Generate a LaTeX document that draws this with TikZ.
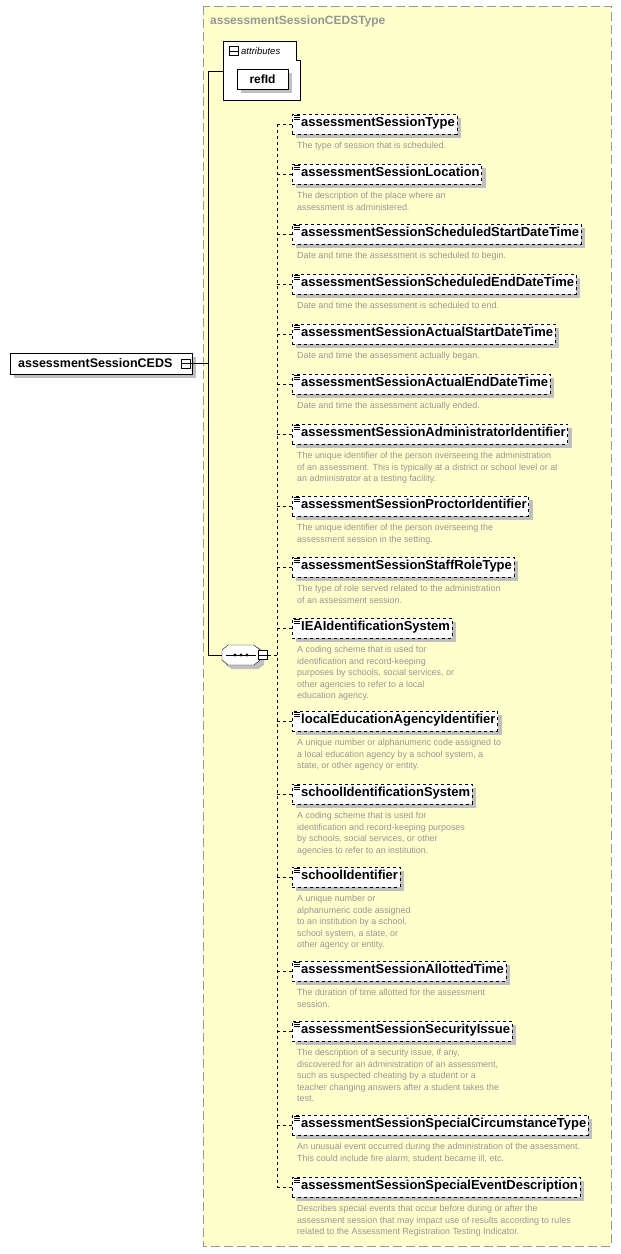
\documentclass[tikz,border=0pt]{standalone}
\usepackage{fontspec}
\setmainfont{Liberation Sans}
\usetikzlibrary{shadows}
\definecolor{bgy}{RGB}{255,255,204}
\definecolor{dgray}{RGB}{150,150,150}
\tikzset{
  x=1pt,y=-1pt,
  sh/.style={drop shadow={shadow xshift=4pt,shadow yshift=-4pt,fill=black!25,opacity=1}},
  el/.style={draw,dashed,fill=white,sh,font=\bfseries\fontsize{13}{14}\selectfont,inner xsep=2pt,minimum height=20pt,anchor=west,inner ysep=0pt},
  desc/.style={anchor=north west,align=left,text=dgray,font=\fontsize{8.9}{11.5}\selectfont,inner sep=0pt},
  pm/.style={draw,fill=white,minimum size=9pt,inner sep=0pt},
}
\newcommand{\elem}[4]{%
  \node[el] (#1) at (292,#2+10) {\strut\hspace{7pt}#3};
  \draw[line width=0.7pt] ([xshift=2pt,yshift=-2pt]#1.north west) -- ++(6,0)
    ([xshift=2pt,yshift=-4pt]#1.north west) -- ++(6,0)
    ([xshift=2pt,yshift=-6pt]#1.north west) -- ++(6,0);
  \node[desc] (#1d) at (297,#2+28) {#4};
  \draw[dashed] (277,#2+10) coordinate (#1c) -- (#1.west);
}
\begin{document}
\begin{tikzpicture}
\useasboundingbox (0,0) rectangle (621,1254);
\fill[white] (0,0) rectangle (621,1254);
\draw[dgray,fill=bgy,dash pattern=on 9pt off 4pt,line width=0.8pt] (203,6) rectangle (611,1246);
\node[anchor=west,text=dgray,font=\bfseries\fontsize{12}{13}\selectfont,inner sep=0pt] (title) at (210,21) {assessmentSessionCEDSType};
% attributes
\draw[fill=white] (223,41) -- (296,41) -- (296,60) -- (300,60) -- (300,100) -- (223,100) -- cycle;
\node[pm] (am) at (234,51) {};
\draw (230,51) -- (238,51);
\node[anchor=west,font=\itshape\fontsize{9.5}{10}\selectfont,inner sep=0pt] (atl) at (241,51) {attributes};
\node[draw,fill=white,sh,minimum width=51pt,minimum height=20pt,font=\bfseries\fontsize{12}{12}\selectfont] (ref) at (262.5,79) {refId};
% main element
\node[draw,fill=white,sh,minimum height=21pt,minimum width=182pt,anchor=west,inner xsep=8pt,font=\bfseries\fontsize{12.5}{13}\selectfont,text width=166pt] (main) at (10,363.5) {assessmentSessionCEDS};
\node[pm] (mm) at (186,363.5) {};
\draw (182,363.5) -- (190,363.5);
\coordinate (j) at (208,363.5);
\draw (mm.east) -- (j);
\draw (208,71) coordinate (t) -- (208,655) coordinate (b);
\draw (t) -- (223,71);
% sequence
\draw[draw=none,fill=black!25] (226,651) -- (232,647) -- (258,647) -- (264,651) -- (264,665) -- (258,669) -- (232,669) -- (226,665) -- cycle;
\draw[fill=white] (222,650) -- (228,645) -- (254,645) -- (260,650) -- (260,660) -- (254,665) -- (228,665) -- (222,660) -- cycle;
\draw (b) -- (222,655);
\draw (226,655) -- (256,655);
\foreach \xx in {235,241,247} \fill (\xx,655) circle (1.6);
\node[pm] (sm) at (263,655) {};
\draw (259,655) -- (267,655);
\draw[dashed] (sm.east) -- (277,655);
\draw[dashed] (277,124) -- (277,1187);
\elem{e1}{114}{assessmentSessionType}{The type of session that is scheduled.}
\elem{e2}{164}{assessmentSessionLocation}{The description of the place where an\\assessment is administered.}
\elem{e3}{224}{assessmentSessionScheduledStartDateTime}{Date and time the assessment is scheduled to begin.}
\elem{e4}{274}{assessmentSessionScheduledEndDateTime}{Date and time the assessment is scheduled to end.}
\elem{e5}{324}{assessmentSessionActualStartDateTime}{Date and time the assessment actually began.}
\elem{e6}{374}{assessmentSessionActualEndDateTime}{Date and time the assessment actually ended.}
\elem{e7}{424}{assessmentSessionAdministratorIdentifier}{The unique identifier of the person overseeing the administration\\of an assessment. This is typically at a district or school level or at\\an administrator at a testing facility.}
\elem{e8}{496}{assessmentSessionProctorIdentifier}{The unique identifier of the person overseeing the\\assessment session in the setting.}
\elem{e9}{557}{assessmentSessionStaffRoleType}{The type of role served related to the administration\\of an assessment session.}
\elem{e10}{618}{IEAIdentificationSystem}{A coding scheme that is used for\\identification and record-keeping\\purposes by schools, social services, or\\other agencies to refer to a local\\education agency.}
\elem{e11}{711}{localEducationAgencyIdentifier}{A unique number or alphanumeric code assigned to\\a local education agency by a school system, a\\state, or other agency or entity.}
\elem{e12}{784}{schoolIdentificationSystem}{A coding scheme that is used for\\identification and record-keeping purposes\\by schools, social services, or other\\agencies to refer to an institution.}
\elem{e13}{867}{schoolIdentifier}{A unique number or\\alphanumeric code assigned\\to an institution by a school,\\school system, a state, or\\other agency or entity.}
\elem{e14}{961}{assessmentSessionAllottedTime}{The duration of time allotted for the assessment\\session.}
\elem{e15}{1021}{assessmentSessionSecurityIssue}{The description of a security issue, if any,\\discovered for an administration of an assessment,\\such as suspected cheating by a student or a\\teacher changing answers after a student takes the\\test.}
\elem{e16}{1115}{assessmentSessionSpecialCircumstanceType}{An unusual event occurred during the administration of the assessment.\\This could include fire alarm, student became ill, etc.}
\elem{e17}{1177}{assessmentSessionSpecialEventDescription}{Describes special events that occur before during or after the\\assessment session that may impact use of results according to rules\\related to the Assessment Registration Testing Indicator.}
\end{tikzpicture}
\end{document}
